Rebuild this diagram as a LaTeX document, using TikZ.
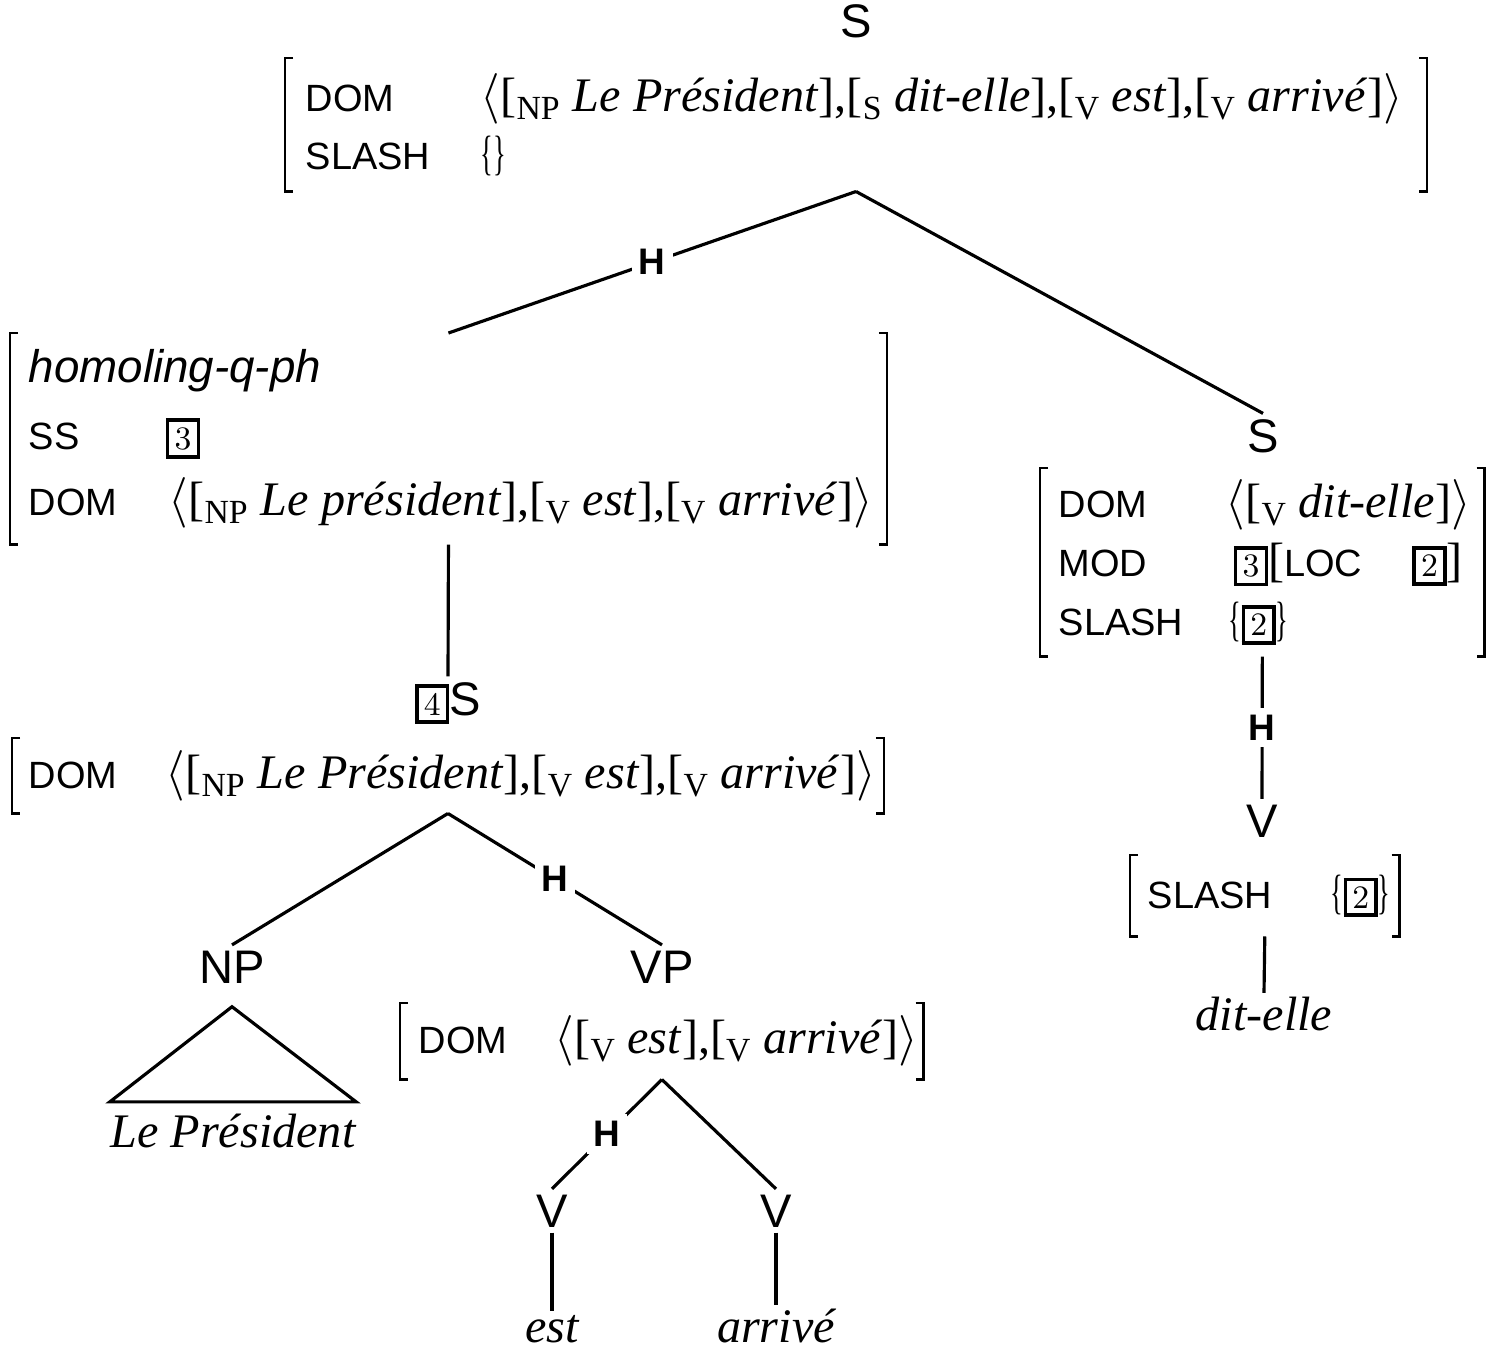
\documentclass[tikz,border=0pt]{standalone}
\usepackage{fontspec}
\setsansfont{Liberation Sans}
\newfontfamily\timesfont{Liberation Serif}

\newcommand\subcat[1]{\raisebox{-0.35ex}{\fontsize{9.6}{10}\selectfont #1}}
\newcommand\phr[2]{[\subcat{#1} \textit{#2}]}
\newcommand\val[1]{\mbox{\timesfont\fontsize{13.7}{16}\selectfont #1}}
\newcommand\feat[2]{\makebox[#1][l]{#2}}
\newcommand\tagbox[1]{{\fboxsep=1.5pt\fboxrule=1pt\fbox{\rmfamily\fontsize{9.3}{10}\selectfont #1}}}
\newcommand\setof[1]{\scalebox{0.55}[1]{\{}#1\scalebox{0.55}[1]{\}}}

\tikzset{
    branch/.style={line width=0.9pt},
    brk/.style={line width=0.8pt},
    avm/.style={anchor=north west, inner ysep=0pt, align=left,
        font=\sffamily\fontsize{10.8}{16.5}\selectfont},
    cat/.style={anchor=base, inner sep=0.05cm, font=\sffamily\fontsize{13.4}{15}\selectfont},
    word/.style={anchor=base, inner sep=0.03cm, font=\timesfont\itshape\fontsize{13.7}{16}\selectfont},
    headlbl/.style={fill=white, inner sep=0.07cm, font=\sffamily\bfseries\fontsize{10.5}{12}\selectfont}
}

\begin{document}
\begin{tikzpicture}[x=0.01cm, y=-0.01cm]
    \useasboundingbox (0,0) rectangle (1500,1356);

    % root
    \node[cat] (s0) at (856,37) {S};
    \node[avm, text width=11cm, inner xsep=0.2cm, minimum height=1.32cm] (avm0) at (285,58) {
        \feat{1.75cm}{DOM}\val{$\langle$\phr{NP}{Le Président},\phr{S}{dit-elle},\phr{V}{est},\phr{V}{arrivé}$\rangle$}\\
        \feat{1.75cm}{SLASH}\val{\setof{}}};

    % head daughter
    \node[avm, text width=8.39cm, inner xsep=0.18cm, minimum height=2.10cm,
        font=\sffamily\fontsize{10.8}{19}\selectfont] (avm1) at (10,333) {
        {\itshape\fontsize{13}{16}\selectfont homoling-q-ph}\\
        \feat{1.37cm}{SS}\tagbox{3}\\
        \feat{1.40cm}{DOM}\val{$\langle$\phr{NP}{Le président},\phr{V}{est},\phr{V}{arrivé}$\rangle$}};
    \node[cat] (s4) at (448,715) {\tagbox{4}S};
    \node[avm, text width=8.38cm, inner xsep=0.16cm, minimum height=0.74cm] (avm3) at (12,738) {
        \feat{1.37cm}{DOM}\val{$\langle$\phr{NP}{Le Président},\phr{V}{est},\phr{V}{arrivé}$\rangle$}};

    \node[cat] (np) at (232,983) {NP};
    \node[word, inner xsep=0pt, inner ysep=0.11cm] (lp) at (233,1147) {Le Président};
    \node[cat] (vp) at (662,983) {VP};
    \node[avm, text width=4.86cm, inner xsep=0.18cm, minimum height=0.75cm] (avm4) at (400,1003) {
        \feat{1.36cm}{DOM}\val{$\langle$\phr{V}{est},\phr{V}{arrivé}$\rangle$}};
    \node[cat] (v1) at (552,1227) {V};
    \node[cat] (v2) at (776,1227) {V};
    \node[word] (w1) at (552,1342) {est};
    \node[word] (w2) at (776,1342) {arrivé};

    % adjunct daughter
    \node[cat] (s2) at (1263,452) {S};
    \node[avm, text width=4.07cm, inner xsep=0.18cm, minimum height=1.87cm,
        font=\sffamily\fontsize{10.8}{16.8}\selectfont] (avm2) at (1040,468) {
        \feat{1.67cm}{DOM}\val{$\langle$\phr{V}{dit-elle}$\rangle$}\\
        \feat{1.75cm}{MOD}\val{\tagbox{3}[}\feat{1.28cm}{LOC}\val{\tagbox{2}]}\\
        \feat{1.70cm}{SLASH}\val{\setof{\tagbox{2}}}};
    \node[cat] (v3) at (1262,837) {V};
    \node[avm, text width=2.34cm, inner xsep=0.17cm, minimum height=0.80cm] (avm5) at (1130,855) {
        \feat{1.83cm}{SLASH}\val{\setof{\tagbox{2}}}};
    \node[word] (w3) at (1264,1030) {dit-elle};

    \foreach \n in {avm0,avm1,avm2,avm3,avm4,avm5} {
        \draw[brk] ([xshift=0.08cm]\n.north west) -- (\n.north west) -- (\n.south west) -- ++(0.08cm,0);
        \draw[brk] ([xshift=-0.08cm]\n.north east) -- (\n.north east) -- (\n.south east) -- ++(-0.08cm,0);
    }

    \draw[branch] (avm0.south) -- node[headlbl] (h1) {H} (avm1.north);
    \draw[branch] (avm0.south) -- (s2.north);
    \draw[branch] (avm1.south) -- (s4.north);
    \draw[branch] (avm3.south) -- (np.north);
    \draw[branch] (avm3.south) -- node[headlbl] (h2) {H} (vp.north);
    \draw[branch] (lp.north west) -- ([yshift=-0.18cm]np.south) -- (lp.north east) -- cycle;
    \draw[branch] (avm4.south) -- node[headlbl] (h3) {H} (v1.north);
    \draw[branch] (avm4.south) -- (v2.north);
    \draw[branch] (v1.south) -- (w1.north);
    \draw[branch] (v2.south) -- (w2.north);
    \draw[branch] (avm2.south) -- node[headlbl] (h4) {H} (v3.north);
    \draw[branch] (avm5.south) -- (w3.north);
\end{tikzpicture}
\end{document}
